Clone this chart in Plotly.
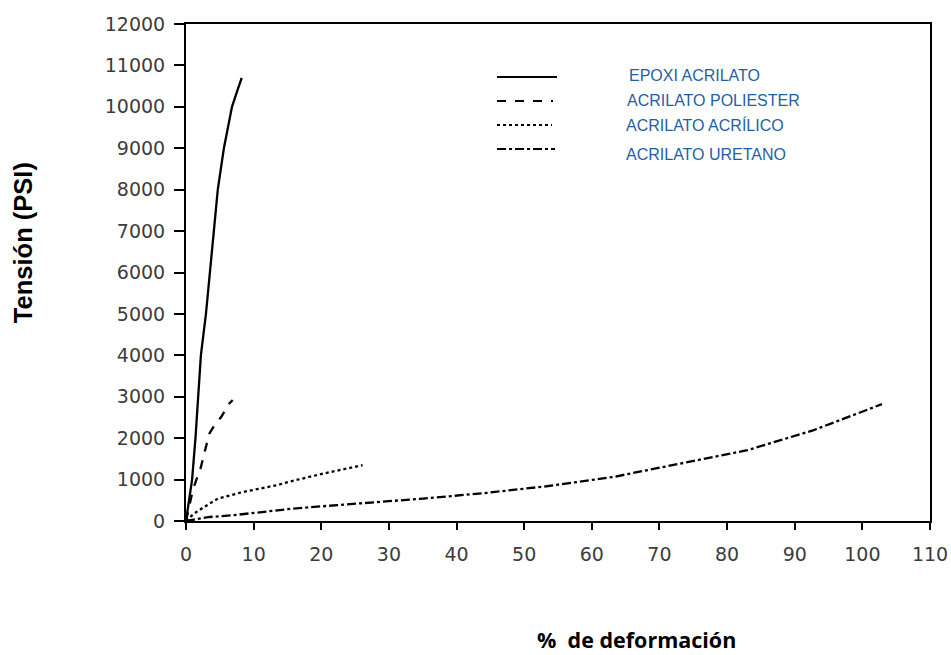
import plotly.graph_objects as go

# ---- data ----
epoxi_x = [0, 0.4, 0.9, 1.4, 1.8, 2.2, 2.95, 3.55, 4.1, 4.7, 5.6, 6.8, 7.6, 8.24]
epoxi_y = [0, 500, 1000, 2000, 3000, 4000, 5000, 6000, 7000, 8000, 9000, 10000, 10400, 10700]

poli_x = [0, 0.5, 1.0, 1.5, 2.2, 2.95, 3.45, 4.2, 5.2, 6.4, 6.9]
poli_y = [0, 400, 740, 980, 1300, 1790, 2110, 2310, 2510, 2840, 2920]

acril_x = [0, 1.2, 2.7, 4.7, 8.4, 13.3, 15.8, 20.3, 26.1]
acril_y = [0, 180, 340, 540, 700, 860, 970, 1146, 1347]

uret_x = [0, 3.5, 6.9, 15.8, 25.3, 35.1, 44.5, 53.3, 63.2, 73.1, 83.0, 92.8, 102.9]
uret_y = [0, 97, 138, 300, 420, 541, 680, 839, 1064, 1388, 1710, 2193, 2822]

series_names = ["EPOXI ACRILATO", "ACRILATO POLIESTER", "ACRILATO ACRÍLICO", "ACRILATO URETANO"]
series_dash = ["solid", "dash", "dot", "dashdot"]

x_ticks = list(range(0, 111, 10))
x_ticktext = [str(v) for v in x_ticks]
y_ticks = list(range(0, 12001, 1000))
y_ticktext = [str(v) for v in y_ticks]

fig = go.Figure()
for xs, ys, name, dash in zip([epoxi_x, poli_x, acril_x, uret_x],
                              [epoxi_y, poli_y, acril_y, uret_y],
                              series_names, series_dash):
    fig.add_trace(go.Scatter(x=xs, y=ys, mode="lines", name=name,
                             line=dict(color="black", width=2.3, dash=dash),
                             showlegend=False))

tickfont = dict(family="DejaVu Sans", size=19, color="#3c3c3c")
fig.update_xaxes(range=[0, 110], tickvals=x_ticks, ticktext=x_ticktext, ticks="outside", ticklen=7,
                 tickwidth=2, tickcolor="black", showline=True, linewidth=2,
                 linecolor="black", mirror=True, showgrid=False, zeroline=False,
                 tickfont=tickfont, ticklabelstandoff=8, automargin=False)
fig.update_yaxes(range=[0, 12000], tickvals=y_ticks, ticktext=y_ticktext, ticks="outside", ticklen=10,
                 tickwidth=2, tickcolor="black", showline=True, linewidth=2,
                 linecolor="black", mirror=True, showgrid=False, zeroline=False,
                 tickfont=tickfont, ticklabelstandoff=5, automargin=False)

# legend samples and labels (paper coordinates)
L, T, W, H = 186, 24, 744, 496.7
def px(x):
    return (x - L) / W
def py(y):
    return (T + H - y) / H

sample_y = [77, 101, 125, 149]
sample_x1 = [557, 553, 552, 555]
label_y = [75, 100, 125, 154]
label_x = [627, 625, 624, 624]
for i in range(4):
    fig.add_shape(type="line", xref="paper", yref="paper",
                  x0=px(497), x1=px(sample_x1[i]), y0=py(sample_y[i]), y1=py(sample_y[i]),
                  line=dict(color="black", width=2, dash=series_dash[i]))
    fig.add_annotation(xref="paper", yref="paper", x=px(label_x[i]), y=py(label_y[i]),
                       text=series_names[i], showarrow=False, xanchor="left", yanchor="middle",
                       font=dict(family="Liberation Sans", size=16, color="#1f5fa6"))

fig.add_annotation(xref="paper", yref="paper", x=px(23), y=py(243), text="<b>Tensión (PSI)</b>",
                   textangle=-90, showarrow=False, xanchor="center", yanchor="middle",
                   font=dict(family="Liberation Sans", size=25.5, color="black"))
fig.add_annotation(xref="paper", yref="paper", x=px(636), y=py(639), text="<b>%  de deformación</b>",
                   showarrow=False, xanchor="center", yanchor="middle",
                   font=dict(family="Open Sans", size=21.5, color="black"))

fig.update_layout(width=951, height=655, margin=dict(l=186, r=21, t=24, b=134.3, autoexpand=False),
                  plot_bgcolor="white", paper_bgcolor="white")
fig.write_html("out.html")
